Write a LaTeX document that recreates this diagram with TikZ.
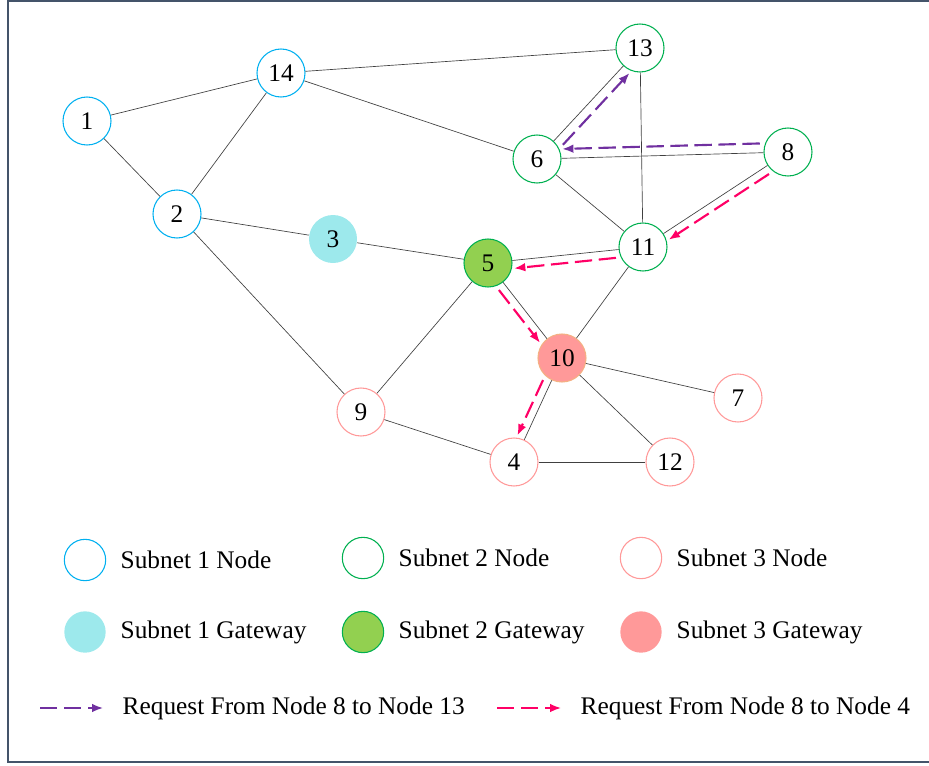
\documentclass[tikz,border=0pt]{standalone}
\usepackage{fontspec}
\setmainfont{Liberation Serif}
\usetikzlibrary{arrows.meta,calc}
\definecolor{subone}{HTML}{00B0F0}
\definecolor{gwone}{HTML}{9DE9EC}
\definecolor{subtwo}{HTML}{00B050}
\definecolor{gwtwo}{HTML}{92D050}
\definecolor{subthree}{HTML}{FF9999}
\definecolor{gwthree}{HTML}{FF9999}
\definecolor{gwedge}{HTML}{F4B183}
\definecolor{reqa}{HTML}{7030A0}
\definecolor{reqb}{HTML}{FF0066}
\definecolor{frame}{HTML}{44546A}
% offset request arrow: style, from, to, side distance
\newcommand{\reqarrow}[4]{\draw[#1] ($(#2.center)!#4!90:(#3.center)$) -- ($(#3.center)!#4!-90:(#2.center)$);}

\begin{document}
\begin{tikzpicture}[x=0.75pt,y=-0.75pt,
  every node/.style={font=\fontsize{19}{23}\selectfont},
  nd/.style={circle,minimum size=36pt,inner sep=0pt,line width=0.8pt,fill=white},
  subA/.style={nd,draw=subone}, gwA/.style={nd,fill=gwone},
  subB/.style={nd,draw=subtwo}, gwB/.style={nd,draw=subtwo,fill=gwtwo},
  subC/.style={nd,draw=subthree}, gwC/.style={nd,draw=gwedge,fill=gwthree},
  key/.style={minimum size=31pt},
  link/.style={draw=black!75,line width=0.5pt},
  req/.style={line width=1.6pt,dash pattern=on 13pt off 5pt,
    -{Latex[length=8.5pt,width=6.5pt]},shorten <=21pt,shorten >=19pt}]
  \useasboundingbox (0,0) rectangle (929,765);
  \draw[frame,line width=1.5pt] (935,1)--(8,1)--(8,762)--(935,762);

  % subnet 1
  \node[subA] (n1)  at (87,121)  {1};
  \node[subA] (n14) at (281,73)  {14};
  \node[subA] (n2)  at (177,214) {2};
  \node[gwA]  (n3)  at (333,239) {3};
  % subnet 2
  \node[subB] (n13) at (640,48)  {13};
  \node[subB] (n6)  at (537,159) {6};
  \node[subB] (n8)  at (788,152) {8};
  \node[subB] (n11) at (643,247) {11};
  \node[gwB]  (n5)  at (488,263) {5};
  % subnet 3
  \node[gwC]  (n10) at (562,358) {10};
  \node[subC] (n9)  at (361,412) {9};
  \node[subC] (n7)  at (738,398) {7};
  \node[subC] (n4)  at (514,462) {4};
  \node[subC] (n12) at (670,462) {12};

  \foreach \a/\b in {n1/n14,n1/n2,n2/n14,n14/n13,n14/n6,n6/n13,n6/n8,n6/n11,
    n13/n11,n8/n11,n2/n3,n3/n5,n5/n11,n2/n9,n9/n5,n5/n10,n11/n10,n10/n7,
    n10/n12,n10/n4,n9/n4,n4/n12}
    \draw[link] (\a) -- (\b);

  \reqarrow{req,reqa}{n8}{n6}{-7pt}
  \reqarrow{req,reqa}{n6}{n13}{-7pt}
  \reqarrow{req,reqb}{n8}{n11}{6pt}
  \reqarrow{req,reqb}{n11}{n5}{6pt}
  \reqarrow{req,reqb}{n5}{n10}{-6pt}
  \reqarrow{req,reqb}{n10}{n4}{-6pt}

  % legend
  \node[subA,key] (k1) at (85,560) {};
  \node[subB,key] (k2) at (363,558) {};
  \node[subC,key] (k3) at (641,558) {};
  \node[gwA,key]  (k4) at (85,632) {};
  \node[gwB,key]  (k5) at (363,632) {};
  \node[nd,fill=gwthree,key] (k6) at (641,632) {};
  \node[anchor=west] (t1) at (116,560) {Subnet 1 Node};
  \node[anchor=west] (t2) at (394,558) {Subnet 2 Node};
  \node[anchor=west] (t3) at (672,558) {Subnet 3 Node};
  \node[anchor=west] (t4) at (116,632) {Subnet 1 Gateway};
  \node[anchor=west] (t5) at (394,632) {Subnet 2 Gateway};
  \node[anchor=west] (t6) at (672,632) {Subnet 3 Gateway};

  \coordinate (ka) at (40,708);
  \coordinate (kb) at (497,708);
  \node[anchor=west] (t7) at (118,708) {Request From Node 8 to Node 13};
  \node[anchor=west] (t8) at (576,708) {Request From Node 8 to Node 4};
  \draw[req,reqa,shorten <=0pt,shorten >=11pt] (ka) -- (t7.west);
  \draw[req,reqb,shorten <=0pt,shorten >=11pt] (kb) -- (t8.west);
\end{tikzpicture}
\end{document}
